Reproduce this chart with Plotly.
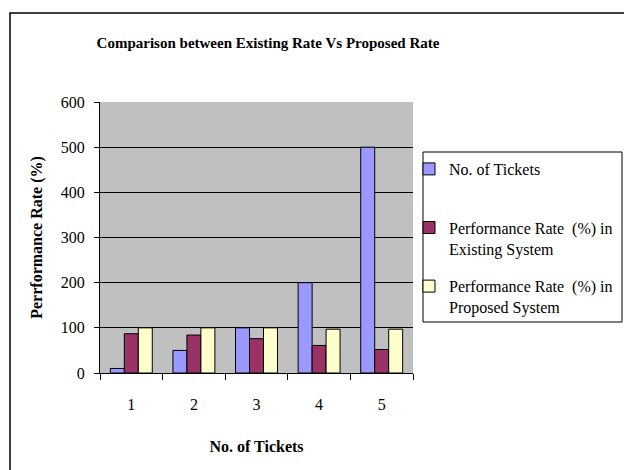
import plotly.graph_objects as go

categories = ["1", "2", "3", "4", "5"]
tickets = [10, 50, 100, 200, 500]
existing = [87, 84, 76, 61, 52]
proposed = [100, 100, 100, 97, 97]

names = ["No. of Tickets<br> ",
         "Performance Rate  (%) in<br>Existing System",
         "Performance Rate  (%) in<br>Proposed System"]
colors = ["#9999FF", "#993366", "#FFFFCC"]
series = [tickets, existing, proposed]

font = "Liberation Serif"

fig = go.Figure()
for i, (nm, col, vals) in enumerate(zip(names, colors, series)):
    fig.add_trace(go.Bar(x=categories, y=vals, name=nm, legendgroup=str(i),
                         marker=dict(color=col, line=dict(color="black", width=1))))

W, H = 624, 470
L, R, T, B = 100, 0, 102, 97
pw = W - L - R
ph = H - T - B
plot_right = 413


def px_x(p):
    return (p - L) / pw


def px_y(p):
    return (H - B - p) / ph


fig.update_layout(
    width=W, height=H,
    margin=dict(l=L, r=R, t=T, b=B, autoexpand=False),
    paper_bgcolor="white",
    plot_bgcolor="#C0C0C0",
    barmode="group",
    bargap=0.33, bargroupgap=0,
    font=dict(family=font, size=16, color="black"),
    title=dict(text="<b>Comparison between Existing Rate Vs Proposed Rate</b>",
               x=268 / W, xanchor="center", y=1 - 43 / H, yanchor="middle",
               font=dict(size=15, family=font)),
    showlegend=True,
    legend=dict(x=px_x(409), xanchor="left", y=px_y(152), yanchor="top",
                borderwidth=0, bgcolor="rgba(0,0,0,0)",
                traceorder="grouped", tracegroupgap=14, valign="top",
                font=dict(size=16, family=font)),
    xaxis=dict(domain=[0, px_x(plot_right)],
               showgrid=False, ticks="outside", tickson="boundaries", ticklen=6,
               tickcolor="black", showline=True, linecolor="black", linewidth=1,
               ticklabelstandoff=17,
               title=dict(text="<b>No. of Tickets</b>", standoff=28, font=dict(size=16)),
               tickfont=dict(size=16)),
    yaxis=dict(range=[0, 600], dtick=100, showgrid=True, gridcolor="black", gridwidth=1,
               ticks="outside", ticklen=5, tickcolor="black", showline=True,
               linecolor="black", linewidth=1, zeroline=False,
               ticklabelstandoff=6,
               title=dict(text="<b>Perrformance Rate (%)</b>", standoff=14, font=dict(size=16)),
               tickfont=dict(size=16)),
)

# outer chart frame (extends past the right and bottom edges)
fig.add_shape(type="rect", xref="paper", yref="paper",
              x0=px_x(10), x1=px_x(640), y0=px_y(490), y1=px_y(13),
              line=dict(color="black", width=1.5), fillcolor="rgba(0,0,0,0)", layer="below")

# legend box
fig.add_shape(type="rect", xref="paper", yref="paper",
              x0=px_x(423), x1=px_x(622), y0=px_y(322), y1=px_y(152),
              line=dict(color="black", width=1), fillcolor="white", layer="above")

fig.write_html("out.html")
